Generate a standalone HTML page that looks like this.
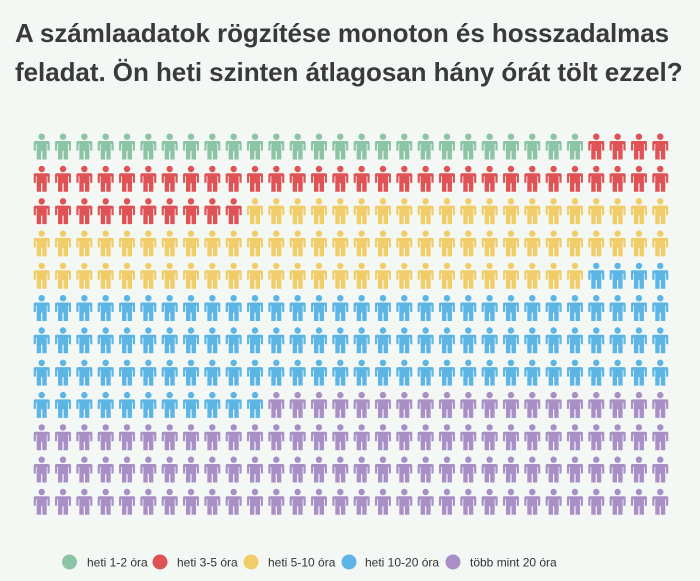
<!DOCTYPE html>
<html><head><meta charset="utf-8"><style>
html,body{margin:0;padding:0;background:#f4f8f5;}
body{width:700px;height:581px;overflow:hidden;position:relative;font-family:"Liberation Sans",sans-serif;}
.t{position:absolute;left:15px;font-weight:bold;font-size:26px;color:#3a3a3a;white-space:nowrap;letter-spacing:-0.05px;}
</style></head><body>
<div class="t" style="top:18px">A számlaadatok rögzítése monoton és hosszadalmas</div>
<div class="t" style="top:57px">feladat. Ön heti szinten átlagosan hány órát tölt ezzel?</div>
<svg width="700" height="581" style="position:absolute;left:0;top:0">
<defs>
<g id="p">
<circle cx="0" cy="3.2" r="3.2"/>
<path d="M-6.5,7.5 H6.5 Q8,7.5 8,9 V17 H5.8 V10.5 H5 V26 H0.6 V17.5 H-0.6 V26 H-5 V10.5 H-5.8 V17 H-8 V9 Q-8,7.5 -6.5,7.5 Z"/>
</g>
</defs>
<g id="grid"></g>
<g font-size="12" fill="#333">
<circle cx="69.5" cy="562" r="7.5" fill="#8cc5a6"/><text x="87" y="566.5">heti 1-2 óra</text>
<circle cx="160" cy="562" r="7.5" fill="#df5356"/><text x="177" y="566.5">heti 3-5 óra</text>
<circle cx="251" cy="562" r="7.5" fill="#f1cd69"/><text x="268" y="566.5">heti 5-10 óra</text>
<circle cx="349" cy="562" r="7.5" fill="#5db5e6"/><text x="365" y="566.5">heti 10-20 óra</text>
<circle cx="453" cy="562" r="7.5" fill="#a88fc6"/><text x="470" y="566.5">több mint 20 óra</text>
</g>
</svg>
<script>
var cols=["#8cc5a6","#df5356","#f1cd69","#5db5e6","#a88fc6"],cnt=[26,44,76,105,109];
var g=document.getElementById("grid"),s="",i=0;
for(var c=0;c<5;c++)for(var k=0;k<cnt[c];k++){var r=Math.floor(i/30),col=i%30;
s+='<use href="#p" fill="'+cols[c]+'" transform="translate('+(41.7+col*21.33).toFixed(2)+','+(133.5+r*32.3).toFixed(2)+')"/>';i++;}
g.innerHTML=s;
</script>
</body></html>
